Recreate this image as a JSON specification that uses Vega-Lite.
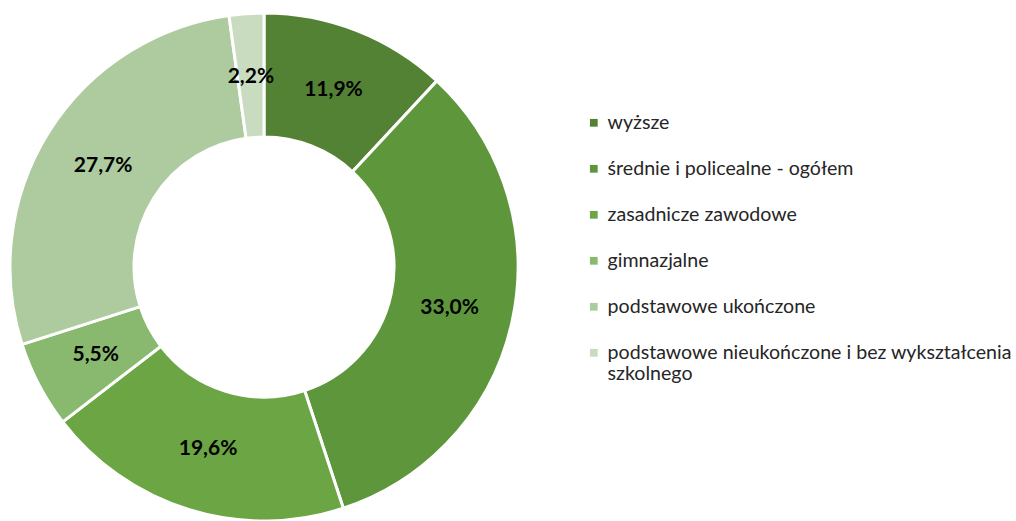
{
  "$schema": "https://vega.github.io/schema/vega-lite/v6.json",
  "width": 508,
  "height": 508,
  "padding": {"left": 4, "top": 7, "right": 0, "bottom": 0},
  "background": "white",
  "view": {"stroke": null},
  "data": {
    "values": [
      {"category": "wyższe", "value": 11.9, "label": "11,9%", "order": 1},
      {"category": "średnie i policealne - ogółem", "value": 33.0, "label": "33,0%", "order": 2},
      {"category": "zasadnicze zawodowe", "value": 19.6, "label": "19,6%", "order": 3},
      {"category": "gimnazjalne", "value": 5.5, "label": "5,5%", "order": 4},
      {"category": "podstawowe ukończone", "value": 27.7, "label": "27,7%", "order": 5},
      {"category": "podstawowe nieukończone i bez wykształcenia szkolnego", "value": 2.2, "label": "2,2%", "order": 6}
    ]
  },
  "layer": [
    {
      "mark": {"type": "arc", "outerRadius": 254, "innerRadius": 130, "stroke": "white", "strokeWidth": 3},
      "encoding": {
        "theta": {"field": "value", "type": "quantitative", "stack": true},
        "order": {"field": "order", "type": "quantitative"},
        "color": {
          "field": "category",
          "type": "nominal",
          "scale": {
            "domain": ["wyższe", "średnie i policealne - ogółem", "zasadnicze zawodowe", "gimnazjalne", "podstawowe ukończone", "podstawowe nieukończone i bez wykształcenia szkolnego"],
            "range": ["#548235", "#5E973B", "#6BA544", "#89B96E", "#ADCB9E", "#C9DCC0"]
          },
          "legend": {
            "title": null,
            "orient": "none",
            "legendX": 574,
            "legendY": 100,
            "symbolType": "square",
            "symbolSize": 60,
            "symbolStrokeWidth": 0,
            "labelFont": "Lato",
            "labelFontSize": 19.6,
            "labelColor": "#262626",
            "labelOffset": 4,
            "labelLimit": 0,
            "rowPadding": 25,
            "labelExpr": "datum.label == 'podstawowe nieukończone i bez wykształcenia szkolnego' ? ['podstawowe nieukończone i bez wykształcenia', 'szkolnego'] : datum.label",
            "labelBaseline": "middle",
            "encode": {"labels": {"lineHeight": {"value": 28}}}
          }
        }
      }
    },
    {
      "mark": {"type": "text", "radius": 190, "font": "Lato", "fontWeight": "bold", "fontSize": 21, "color": "#000000"},
      "encoding": {
        "theta": {"field": "value", "type": "quantitative", "stack": true},
        "order": {"field": "order", "type": "quantitative"},
        "detail": {"field": "category", "type": "nominal"},
        "text": {"field": "label", "type": "nominal"}
      }
    }
  ]
}
